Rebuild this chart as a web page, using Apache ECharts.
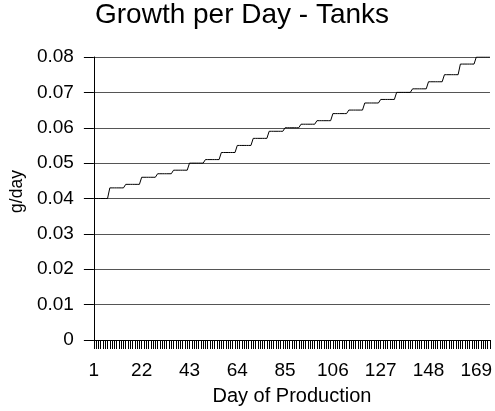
<!DOCTYPE html>
<html>
<head>
<meta charset="utf-8">
<style>
  html, body { margin: 0; padding: 0; background: #fff; }
  #chart { width: 495px; height: 411px; }
</style>
<script src="https://cdn.jsdelivr.net/npm/echarts@6/dist/echarts.min.js"></script>
</head>
<body>
<div id="chart"></div>
<script>
// Day numbers along the production run
const days = Array.from({ length: 175 }, (_, i) => String(i + 1));

// Daily growth rate (g/day), one row per week
const growth = [
  0.040, 0.040, 0.040, 0.040, 0.040, 0.040, 0.040,
  0.043, 0.043, 0.043, 0.043, 0.043, 0.043, 0.043,
  0.044, 0.044, 0.044, 0.044, 0.044, 0.044, 0.044,
  0.046, 0.046, 0.046, 0.046, 0.046, 0.046, 0.046,
  0.047, 0.047, 0.047, 0.047, 0.047, 0.047, 0.047,
  0.048, 0.048, 0.048, 0.048, 0.048, 0.048, 0.048,
  0.050, 0.050, 0.050, 0.050, 0.050, 0.050, 0.050,
  0.051, 0.051, 0.051, 0.051, 0.051, 0.051, 0.051,
  0.053, 0.053, 0.053, 0.053, 0.053, 0.053, 0.053,
  0.055, 0.055, 0.055, 0.055, 0.055, 0.055, 0.055,
  0.057, 0.057, 0.057, 0.057, 0.057, 0.057, 0.057,
  0.059, 0.059, 0.059, 0.059, 0.059, 0.059, 0.059,
  0.060, 0.060, 0.060, 0.060, 0.060, 0.060, 0.060,
  0.061, 0.061, 0.061, 0.061, 0.061, 0.061, 0.061,
  0.062, 0.062, 0.062, 0.062, 0.062, 0.062, 0.062,
  0.064, 0.064, 0.064, 0.064, 0.064, 0.064, 0.064,
  0.065, 0.065, 0.065, 0.065, 0.065, 0.065, 0.065,
  0.067, 0.067, 0.067, 0.067, 0.067, 0.067, 0.067,
  0.068, 0.068, 0.068, 0.068, 0.068, 0.068, 0.068,
  0.070, 0.070, 0.070, 0.070, 0.070, 0.070, 0.070,
  0.071, 0.071, 0.071, 0.071, 0.071, 0.071, 0.071,
  0.073, 0.073, 0.073, 0.073, 0.073, 0.073, 0.073,
  0.075, 0.075, 0.075, 0.075, 0.075, 0.075, 0.075,
  0.078, 0.078, 0.078, 0.078, 0.078, 0.078, 0.078,
  0.080, 0.080, 0.080, 0.080, 0.080, 0.080, 0.080
];

const FONT = 'Liberation Sans, Arial, sans-serif';

const chart = echarts.init(document.getElementById('chart'), null, { renderer: 'canvas' });
chart.setOption({
  animation: false,
  backgroundColor: '#fff',
  title: {
    text: 'Growth per Day - Tanks',
    left: 95,
    top: 1,
    padding: 0,
    textStyle: { fontFamily: FONT, fontSize: 28, fontWeight: 'normal', color: '#000' }
  },
  grid: { left: 89, right: 3, top: 57, bottom: 71, containLabel: false },
  xAxis: {
    type: 'category',
    data: days,
    boundaryGap: false,
    name: 'Day of Production',
    nameLocation: 'middle',
    nameGap: 46,
    nameTextStyle: { fontFamily: FONT, fontSize: 20, color: '#000' },
    axisLine: { show: true, lineStyle: { color: '#000', width: 1 } },
    axisTick: { show: true, interval: 0, length: 9, lineStyle: { color: '#000', width: 1 } },
    axisLabel: { interval: 20, margin: 21, fontFamily: FONT, fontSize: 19, color: '#000' },
    splitLine: { show: false }
  },
  yAxis: {
    type: 'value',
    min: 0,
    max: 0.08,
    interval: 0.01,
    name: 'g/day',
    nameLocation: 'middle',
    nameGap: 67,
    nameTextStyle: { fontFamily: FONT, fontSize: 17.5, color: '#000', padding: [0, 0, 0, 14] },
    axisLine: { show: true, lineStyle: { color: '#000', width: 1 } },
    axisTick: { show: true, length: 10, lineStyle: { color: '#000', width: 1 } },
    axisLabel: { margin: 20, fontFamily: FONT, fontSize: 19, color: '#000' },
    splitLine: { show: true, lineStyle: { color: '#555', width: 1 } }
  },
  series: [{
    type: 'line',
    data: growth,
    showSymbol: false,
    symbol: 'none',
    lineStyle: { color: '#000', width: 1 },
    z: 3
  }]
});
</script>
</body>
</html>
